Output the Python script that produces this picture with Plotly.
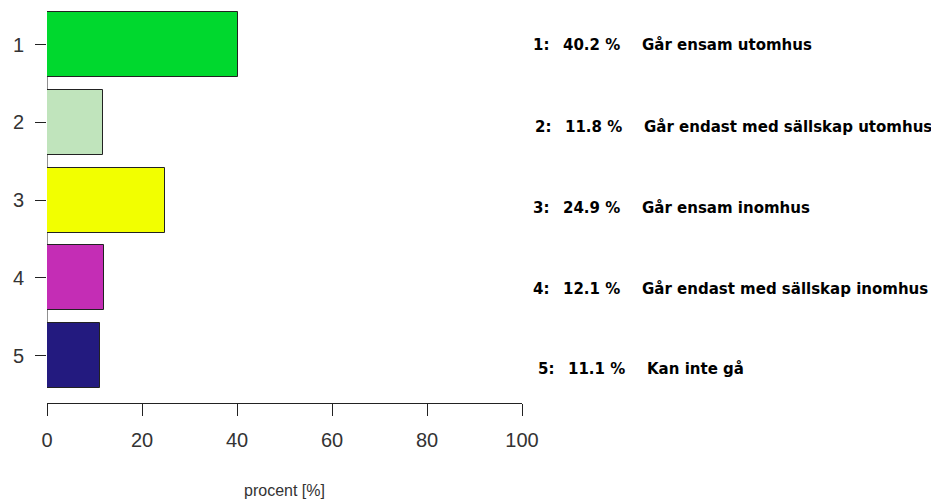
import plotly.graph_objects as go

# ---- data ----
categories = [1, 2, 3, 4, 5]
values = [40.2, 11.8, 24.9, 12.1, 11.1]
descriptions = [
    "Går ensam utomhus",
    "Går endast med sällskap utomhus",
    "Går ensam inomhus",
    "Går endast med sällskap inomhus",
    "Kan inte gå",
]
x_ticks = [0, 20, 40, 60, 80, 100]
x_title = "procent [%]"

# ---- style ----
colors = ["#00D82E", "#C0E4BC", "#F2FF00", "#C42DB5", "#231A7F"]
W, H = 931, 500
ML, MR, MT, MB = 47, 409, 10, 97
PLOT_H = H - MT - MB
UNIT = 77.75  # px per category
y_top = categories[0] - (44.5 - MT) / UNIT
y_bot = y_top + PLOT_H / UNIT

fig = go.Figure()
fig.add_trace(go.Bar(
    y=categories, x=values, orientation="h",
    width=0.836,
    marker=dict(color=colors, line=dict(color="#222222", width=1)),
    hoverinfo="skip",
))

# y axis line from first to last category (R style)
fig.add_shape(type="line", xref="x", yref="y",
              x0=0, x1=0, y0=categories[0], y1=categories[-1],
              line=dict(color="#222222", width=1), layer="below")

# right-hand text legend
def px2paper_x(px):
    return (px - ML) / (W - ML - MR)

def px2paper_y(py):
    return (H - MB - py) / PLOT_H

row_y = [45, 127, 208, 289, 369]
row_shift = [0, 2, 0, 0, 5]
col_x = [533, 563, 642]
tf = dict(family="DejaVu Sans", size=15, color="#000000")
for i, (c, v, d) in enumerate(zip(categories, values, descriptions)):
    texts = [f"<b>{c}:</b>", f"<b>{v:.1f} %</b>", f"<b>{d}</b>"]
    for t, cx in zip(texts, col_x):
        fig.add_annotation(
            xref="paper", yref="paper",
            x=px2paper_x(cx + row_shift[i] - 1), y=px2paper_y(row_y[i]),
            xanchor="left", yanchor="middle",
            text=t, showarrow=False, font=tf, borderpad=0,
        )

# x axis title (R style, placed below tick labels)
fig.add_annotation(
    xref="paper", yref="paper", x=0.5, y=px2paper_y(490),
    xanchor="center", yanchor="middle", showarrow=False, borderpad=0,
    text=x_title, font=dict(size=16, family="Liberation Sans, Arial", color="#333333"),
)

fig.update_layout(
    width=W, height=H,
    margin=dict(l=ML, r=MR, t=MT, b=MB, autoexpand=False),
    plot_bgcolor="white", paper_bgcolor="white",
    showlegend=False,
    bargap=0,
    font=dict(family="Liberation Sans, Arial", color="#333333"),
)
fig.update_xaxes(
    range=[0, 100], tickvals=x_ticks, automargin=False,
    showgrid=False, zeroline=False,
    showline=True, linecolor="#222222", linewidth=1,
    ticks="outside", ticklen=12, tickcolor="#222222", tickwidth=1,
    tickfont=dict(size=20, family="Liberation Sans, Arial", color="#333333"),
    ticklabelstandoff=7,
)
fig.update_yaxes(
    range=[y_bot, y_top], tickvals=categories, automargin=False,
    showgrid=False, zeroline=False, showline=False,
    ticks="outside", ticklen=11, tickcolor="#222222", tickwidth=1,
    tickfont=dict(size=20, family="Liberation Sans, Arial", color="#333333"),
    ticklabelstandoff=7,
)

fig.write_html("out.html", config={"displayModeBar": False},
               post_script="document.body.style.margin='0';")
